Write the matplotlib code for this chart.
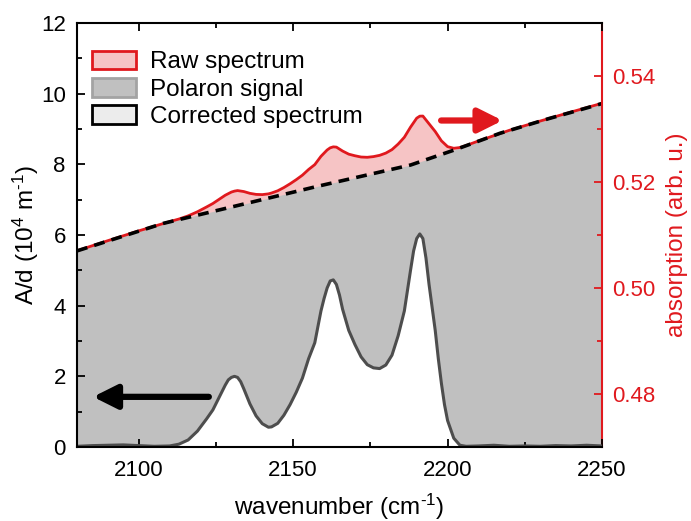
import matplotlib
matplotlib.use("Agg")
import matplotlib.pyplot as plt
from matplotlib.patches import Patch
from matplotlib.ticker import MultipleLocator, FormatStrFormatter

plt.rcParams['font.family'] = ['Liberation Sans', 'DejaVu Sans']
plt.rcParams['font.size'] = 16
plt.rcParams['mathtext.fontset'] = 'custom'
plt.rcParams['mathtext.rm'] = 'Liberation Sans'
plt.rcParams['mathtext.it'] = 'Liberation Sans:italic'

RED = '#e0191e'
PINK = '#f6c4c5'
GRAY = '#c0c0c0'
LINE_GRAY = '#4d4d4d'
LABEL_SIZE = 17.5

# polaron signal (left axis, A/d in 1e4 m^-1)
pol_wn = [2080, 2085, 2090, 2095, 2100, 2105, 2110, 2113, 2116, 2119, 2122, 2124,
          2126, 2128, 2129, 2130, 2131, 2132, 2133, 2134, 2136, 2138, 2140, 2142,
          2143, 2145, 2147, 2149, 2151, 2153, 2155, 2157, 2159, 2160, 2161, 2162,
          2163, 2164, 2165, 2166, 2168, 2170, 2172, 2174, 2176, 2178, 2180, 2182,
          2184, 2186, 2188, 2189, 2190, 2191, 2192, 2193, 2194, 2195, 2196, 2197,
          2198, 2199, 2200, 2202, 2204, 2206, 2210, 2215, 2220, 2225, 2230, 2235,
          2240, 2245, 2250]
pol_ad = [0.02, 0.04, 0.05, 0.06, 0.04, 0.02, 0.03, 0.08, 0.20, 0.45, 0.80, 1.05,
          1.40, 1.75, 1.90, 1.97, 2.00, 1.97, 1.85, 1.65, 1.22, 0.88, 0.66, 0.56,
          0.57, 0.67, 0.90, 1.20, 1.55, 1.95, 2.50, 2.95, 3.85, 4.20, 4.50, 4.70,
          4.73, 4.60, 4.30, 3.90, 3.30, 2.90, 2.55, 2.33, 2.24, 2.22, 2.32, 2.60,
          3.15, 3.85, 5.00, 5.55, 5.90, 6.03, 5.90, 5.35, 4.60, 3.95, 3.30, 2.50,
          1.80, 1.20, 0.75, 0.25, 0.05, 0.02, 0.03, 0.05, 0.02, 0.03, 0.02, 0.04,
          0.03, 0.05, 0.03]

# raw absorption spectrum (right axis)
raw_wn = [2080, 2090, 2100, 2110, 2113, 2116, 2119, 2122, 2124, 2126, 2128, 2130,
          2131, 2132, 2134, 2136, 2138, 2140, 2142, 2143, 2145, 2147, 2149, 2151,
          2153, 2155, 2157, 2159, 2161, 2162, 2163, 2164, 2166, 2168, 2170, 2172,
          2174, 2176, 2178, 2180, 2182, 2184, 2186, 2188, 2190, 2191, 2192, 2194,
          2196, 2198, 2200, 2202, 2204, 2206, 2210, 2220, 2230, 2240, 2250]
raw_abs = [0.50703, 0.50893, 0.51078, 0.51252, 0.51301, 0.51361, 0.51438, 0.51530,
           0.51594, 0.51672, 0.51750, 0.51810, 0.51828, 0.51838, 0.51820, 0.51786,
           0.51766, 0.51762, 0.51776, 0.51792, 0.51834, 0.51895, 0.51966, 0.52044,
           0.52129, 0.52236, 0.52328, 0.52484, 0.52604, 0.52645, 0.52663, 0.52658,
           0.52584, 0.52525, 0.52495, 0.52471, 0.52466, 0.52479, 0.52503, 0.52545,
           0.52611, 0.52716, 0.52844, 0.53035, 0.53204, 0.53242, 0.53244, 0.53098,
           0.52952, 0.52777, 0.52667, 0.52636, 0.52650, 0.52688, 0.52774, 0.52975,
           0.53150, 0.53320, 0.53485]

# fitted background / corrected spectrum (right axis)
base_wn = [2080, 2090, 2100, 2108, 2118, 2128, 2143, 2158, 2173, 2188, 2195, 2202,
           2210, 2217, 2225, 2233, 2241, 2250]
base_abs = [0.5070, 0.50886, 0.51072, 0.5122, 0.5136, 0.5150, 0.5171, 0.5192,
            0.5212, 0.5232, 0.5246, 0.5260, 0.5277, 0.5292, 0.5306, 0.5320,
            0.5333, 0.5348]

fig = plt.figure(figsize=(6.91, 5.21), dpi=100)
ax = fig.add_axes([0.1114, 0.142, 0.7598, 0.8139])
ax2 = ax.twinx()
ax.set_zorder(ax2.get_zorder() + 1)
ax.patch.set_visible(False)

ymin2, ymax2 = 0.47, 0.55

# right axis: raw spectrum, background below it
ax2.fill_between(raw_wn, raw_abs, ymin2, color=PINK, lw=0)
ax2.fill_between(base_wn, base_abs, ymin2, color=GRAY, lw=0)
ax2.plot(raw_wn, raw_abs, color=RED, lw=2)
ax2.plot(base_wn, base_abs, color='black', lw=2.6, ls=(0, (3, 2)))
ax2.set_ylim(ymin2, ymax2)
ax2.yaxis.set_major_locator(MultipleLocator(0.02))
ax2.yaxis.set_minor_locator(MultipleLocator(0.01))
ax2.yaxis.set_major_formatter(FormatStrFormatter('%.2f'))
ax2.tick_params(axis='y', which='both', direction='in', colors=RED, pad=7)
ax2.tick_params(axis='y', which='major', length=6, width=1.3)
ax2.tick_params(axis='y', which='minor', length=3.5, width=1.3)
ax2.set_ylabel('absorption (arb. u.)', color=RED, fontsize=LABEL_SIZE, labelpad=8)
for s in ['left', 'top', 'bottom']:
    ax2.spines[s].set_visible(False)
ax2.spines['right'].set_color(RED)
ax2.spines['right'].set_linewidth(1.5)

# left axis: polaron signal
ax.fill_between(pol_wn, pol_ad, 0, color='white', lw=0)
ax.plot(pol_wn, pol_ad, color=LINE_GRAY, lw=2.2)
ax.set_xlim(2080, 2250)
ax.set_ylim(0, 12)
ax.xaxis.set_major_locator(MultipleLocator(50))
ax.xaxis.set_minor_locator(MultipleLocator(25))
ax.yaxis.set_major_locator(MultipleLocator(2))
ax.yaxis.set_minor_locator(MultipleLocator(1))
ax.tick_params(which='both', direction='in', top=True, right=False, width=1.3)
ax.tick_params(which='major', length=6)
ax.tick_params(which='minor', length=3.5)
ax.tick_params(axis='x', pad=9)
ax.tick_params(axis='y', pad=8)
ax.spines['right'].set_visible(False)
for s in ['left', 'top', 'bottom']:
    ax.spines[s].set_linewidth(1.5)
ax.set_xlabel(r'wavenumber (cm$^{\text{-1}}$)', fontsize=LABEL_SIZE, labelpad=8)
ax.set_ylabel(r'A/d (10$^{4}$ m$^{\text{-1}}$)', fontsize=LABEL_SIZE, labelpad=0)

# arrows pointing to the relevant axis
ax.annotate('', xy=(2085.2, 1.42), xytext=(2122.7, 1.42),
            arrowprops=dict(arrowstyle='-|>,head_length=0.9,head_width=0.45',
                            color='black', lw=4.5, shrinkA=0, shrinkB=0))
ax2.annotate('', xy=(2217.8, 0.5316), xytext=(2197.9, 0.5316),
             arrowprops=dict(arrowstyle='-|>,head_length=0.9,head_width=0.45',
                             color=RED, lw=4.5, shrinkA=0, shrinkB=0))

handles = [Patch(facecolor=PINK, edgecolor=RED, lw=2, label='Raw spectrum'),
           Patch(facecolor=GRAY, edgecolor='#a3a3a3', lw=2, label='Polaron signal'),
           Patch(facecolor='#ececec', edgecolor='black', lw=2, label='Corrected spectrum')]
ax.legend(handles=handles, loc='upper left', bbox_to_anchor=(0.029, 0.935),
          frameon=False, fontsize=17.5, handlelength=1.8, handleheight=0.82,
          handletextpad=0.58, labelspacing=0.18, borderpad=0, borderaxespad=0)

fig.savefig('out.png', dpi=100)
